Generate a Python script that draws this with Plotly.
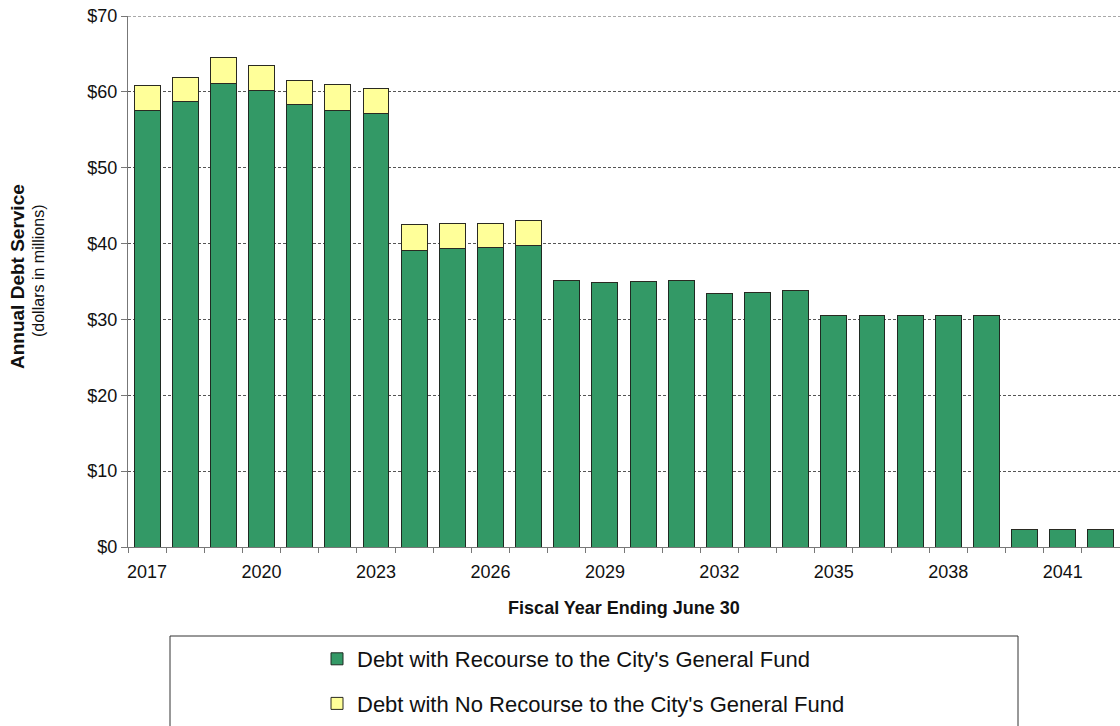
import plotly.graph_objects as go

years = list(range(2017, 2043))
recourse = [57.5, 58.75, 61.1, 60.2, 58.3, 57.6, 57.2,
            39.05, 39.4, 39.5, 39.8,
            35.15, 34.9, 35.0, 35.15,
            33.4, 33.6, 33.8,
            30.5, 30.5, 30.5, 30.5, 30.5,
            2.3, 2.3, 2.3]
no_recourse = [3.3, 3.2, 3.4, 3.3, 3.2, 3.35, 3.3,
               3.4, 3.3, 3.2, 3.2,
               0, 0, 0, 0,
               0, 0, 0,
               0, 0, 0, 0, 0,
               0, 0, 0]
tick_years = [2017, 2020, 2023, 2026, 2029, 2032, 2035, 2038, 2041]
tick_labels = [str(y) for y in tick_years]
y_ticks = [0, 10, 20, 30, 40, 50, 60, 70]
y_labels = ["$" + str(v) for v in y_ticks]
y_max = 70

FONT = "Liberation Sans, Arial, sans-serif"

fig = go.Figure()
fig.add_trace(go.Bar(
    x=years, y=recourse,
    name="Debt with Recourse to the City's General Fund",
    marker=dict(color="#339966", line=dict(color="#1f2a22", width=1)),
    legendgroup="a",
))
fig.add_trace(go.Bar(
    x=years, y=no_recourse,
    name="Debt with No Recourse to the City's General Fund",
    marker=dict(color="#FFFF99", line=dict(color="#2a2a22", width=1)),
    legendgroup="b",
))

L, T, B = 128, 16, 179
W, H = 1120, 726
plot_h = H - T - B
plot_w = W - L


def py(pix):
    return (H - B - pix) / plot_h


def px(pix):
    return (pix - L) / plot_w


fig.update_layout(
    width=W, height=H,
    margin=dict(l=L, r=0, t=T, b=B, autoexpand=False),
    barmode="stack",
    bargap=0.32,
    plot_bgcolor="white",
    paper_bgcolor="white",
    font=dict(family=FONT, color="#111", size=18),
    showlegend=True,
    legend=dict(
        x=px(317), xanchor="left",
        y=py(638), yanchor="top",
        orientation="v",
        traceorder="grouped",
        tracegroupgap=13,
        font=dict(size=22, family=FONT, color="#111"),
        bgcolor="rgba(0,0,0,0)",
        borderwidth=0,
    ),
    xaxis=dict(
        range=[2016.5, 2042.5],
        tickvals=tick_years,
        ticktext=tick_labels,
        ticks="",
        ticklabelstandoff=8,
        showgrid=False,
        showline=True, linecolor="#777", linewidth=1,
        tickfont=dict(size=18),
        minor=dict(ticks="outside", dtick=1, tick0=2016.5, ticklen=5,
                   tickcolor="#777", showgrid=False),
        title=dict(text="<b>Fiscal Year Ending June 30</b>", font=dict(size=18), standoff=20),
        zeroline=False,
    ),
    yaxis=dict(
        range=[0, y_max],
        tickvals=y_ticks,
        ticktext=y_labels,
        ticks="outside", ticklen=6, tickcolor="#777",
        showline=True, linecolor="#777", linewidth=1,
        showgrid=True, gridcolor="#555", griddash="3px,2px", gridwidth=1,
        tickfont=dict(size=18),
        zeroline=False,
    ),
    shapes=[
        dict(
            type="rect", xref="paper", yref="paper",
            x0=px(170), x1=px(1018), y0=py(740), y1=py(636),
            line=dict(color="#333", width=1), fillcolor="rgba(0,0,0,0)",
            layer="below",
        ),
        dict(
            type="line", xref="paper", yref="y",
            x0=0, x1=1, y0=y_max, y1=y_max,
            line=dict(color="#555", width=1, dash="3px,2px"),
            layer="below",
        ),
    ],
    annotations=[
        dict(
            text="<b>Annual Debt Service</b>",
            xref="paper", yref="paper",
            x=px(17), y=py(277), xanchor="center", yanchor="middle",
            textangle=-90, showarrow=False,
            font=dict(size=19, family=FONT, color="#111"),
        ),
        dict(
            text="(dollars in millions)",
            xref="paper", yref="paper",
            x=px(38), y=py(271), xanchor="center", yanchor="middle",
            textangle=-90, showarrow=False,
            font=dict(size=16, family=FONT, color="#111"),
        ),
    ],
)

fig.write_html(
    "out.html",
    config={"displayModeBar": False},
    post_script="document.body.style.margin='0';document.body.style.overflow='hidden';",
)
